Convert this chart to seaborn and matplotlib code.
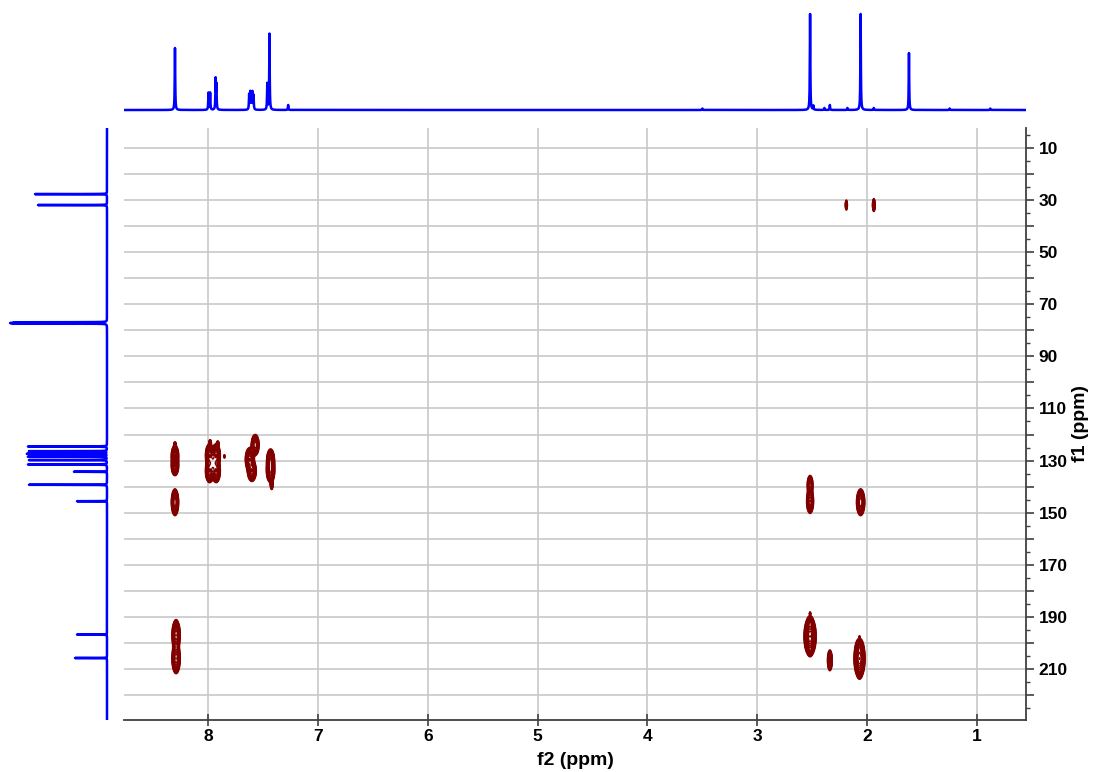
import matplotlib
matplotlib.use('Agg')
import matplotlib.pyplot as plt
import matplotlib.ticker as mticker
import numpy as np
import pandas as pd
import seaborn as sns

# 1H projection peaks (ppm, height)
h_shift = [8.30, 7.995, 7.98, 7.93, 7.923, 7.625, 7.615, 7.605, 7.595, 7.585, 7.46, 7.44, 7.27,
           3.50, 2.52, 2.49, 2.39, 2.34, 2.18, 2.06, 1.94, 1.62, 1.25, 0.88]
h_height = [62, 17, 17, 30, 24, 15, 17, 16, 17, 14, 26, 76, 5,
            1.5, 96, 4, 2, 5, 2, 96, 2, 57, 1.5, 1.5]

# 13C projection peaks (ppm, height)
c_shift = [27.7, 31.9, 76.9, 77.2, 77.4, 124.6, 126.4, 127.4, 128.5, 129.8, 131.5, 134.3,
           139.3, 145.6, 196.8, 205.8]
c_height = [72, 69, 92, 94, 92, 79, 78, 80, 79, 78, 79, 33, 78, 30, 30, 32]

# HMBC cross peaks: f2 (1H), f1 (13C), width f2, width f1, intensity
cp_f2 = [8.30, 8.30, 8.30, 8.30, 8.29, 8.29, 8.29,
         7.985, 7.985, 7.925, 7.925, 7.955, 7.98, 7.91, 7.85,
         7.57, 7.62, 7.60, 7.43, 7.43, 7.42,
         2.52, 2.52, 2.06,
         2.52, 2.52, 2.52, 2.52, 2.34,
         2.07, 2.07, 2.07, 2.07,
         2.19, 1.94]
cp_f1 = [123.8, 128.0, 132.0, 146.0, 192.6, 197.0, 206.0,
         128.0, 134.0, 128.0, 134.0, 131.0, 123.0, 123.5, 128.4,
         124.0, 129.5, 134.0, 130.0, 134.0, 139.0,
         139.3, 145.6, 146.0,
         188.7, 192.0, 197.5, 203.3, 206.7,
         197.7, 201.5, 206.0, 212.0,
         31.9, 31.9]
cp_w2 = [0.006, 0.015, 0.015, 0.015, 0.006, 0.017, 0.017,
         0.017, 0.017, 0.017, 0.017, 0.015, 0.006, 0.006, 0.004,
         0.016, 0.018, 0.018, 0.016, 0.017, 0.007,
         0.013, 0.015, 0.017,
         0.004, 0.011, 0.022, 0.009, 0.011,
         0.003, 0.013, 0.02, 0.009,
         0.006, 0.007]
cp_w1 = [0.6, 1.7, 1.7, 2.3, 0.6, 2.6, 2.6,
         2.0, 2.0, 2.0, 2.0, 2.0, 0.6, 0.6, 0.5,
         1.8, 2.0, 1.8, 2.0, 2.0, 1.2,
         1.8, 2.2, 2.3,
         0.4, 1.0, 3.0, 0.8, 2.0,
         0.3, 1.2, 3.0, 0.8,
         1.2, 1.4]
cp_amp = [0.3, 1.0, 1.0, 1.0, 0.3, 1.0, 1.0,
          1.0, 1.0, 1.0, 1.0, 0.6, 0.3, 0.3, 0.2,
          1.0, 1.0, 1.0, 1.0, 1.0, 0.4,
          0.6, 0.8, 1.0,
          0.2, 0.5, 2.0, 0.4, 0.6,
          0.15, 0.6, 2.0, 0.4,
          0.3, 0.4]

f2_lim = (8.764, 0.555)
f1_lim = (229.6, 2.32)

sns.set_theme(style='white')
plt.rcParams['font.family'] = ['Liberation Sans', 'DejaVu Sans']
plt.rcParams['font.weight'] = 'bold'

fig = plt.figure(figsize=(10.95, 7.72), dpi=100)
W, H = 1095, 772
ax = fig.add_axes([124 / W, 1 - 720 / H, (1026 - 124) / W, (720 - 128) / H])
ax_top = fig.add_axes([124 / W, 1 - 120 / H, (1026 - 124) / W, 120 / H])
ax_left = fig.add_axes([0, 1 - 720 / H, 115 / W, (720 - 128) / H])

blue = '#0000ff'

# top 1H projection
x_h = np.arange(0.555, 8.764, 0.001)
y_h = np.zeros_like(x_h)
for s, h in zip(h_shift, h_height):
    y_h += h / (1 + ((x_h - s) / 0.0025) ** 2)
df_h = pd.DataFrame({'ppm': x_h, 'int': y_h})
sns.lineplot(data=df_h, x='ppm', y='int', ax=ax_top, color=blue, lw=1.8,
             estimator=None, sort=False)
ax_top.set_xlim(f2_lim)
ax_top.set_ylim(-10, 110)
ax_top.axis('off')

# left 13C projection
y_c = np.arange(2.32, 229.6, 0.005)
x_c = np.zeros_like(y_c)
for s, h in zip(c_shift, c_height):
    x_c += h / (1 + ((y_c - s) / 0.03) ** 2)
df_c = pd.DataFrame({'ppm': y_c, 'int': x_c})
sns.lineplot(data=df_c, x='int', y='ppm', ax=ax_left, color=blue, lw=1.8,
             estimator=None, sort=False, orient='y')
ax_left.set_xlim(107, -8)
ax_left.set_ylim(f1_lim)
ax_left.axis('off')

# 2D contour map
gx = np.arange(0.555, 8.764, 0.004)
gy = np.arange(2.32, 229.6, 0.25)
GX, GY = np.meshgrid(gx, gy)
Z = np.zeros_like(GX)
for a, b, wa, wb, amp in zip(cp_f2, cp_f1, cp_w2, cp_w1, cp_amp):
    Z += amp * np.exp(-0.5 * (((GX - a) / wa) ** 2 + ((GY - b) / wb) ** 2))
ax.set_axisbelow(True)
ax.contour(GX, GY, Z, levels=np.geomspace(0.08, 2.5, 16), colors='#800000', linewidths=1.0)

ax.set_xlim(f2_lim)
ax.set_ylim(f1_lim)
ax.set_xticks(range(1, 9))
ax.xaxis.set_minor_locator(mticker.NullLocator())
ax.set_yticks(range(10, 230, 10))
ax.yaxis.set_minor_locator(mticker.MultipleLocator(5))
ax.yaxis.set_major_formatter(mticker.FuncFormatter(
    lambda v, p: f'{int(v)}' if int(v) % 20 == 10 else ''))
ax.yaxis.tick_right()
ax.yaxis.set_label_position('right')
ax.grid(True, which='major', color='#c8c8c8', lw=1.2)
for side in ['top', 'left']:
    ax.spines[side].set_visible(False)
for side in ['bottom', 'right']:
    ax.spines[side].set_color('#404040')
    ax.spines[side].set_linewidth(1.3)
ax.tick_params(axis='x', which='major', direction='inout', length=9, width=1.2,
               color='#404040', labelsize=12.5, labelcolor='black', pad=2, bottom=True)
ax.tick_params(axis='y', which='major', direction='out', length=6, width=1.2,
               color='#404040', labelsize=12.5, labelcolor='black', pad=3,
               right=True, left=False)
ax.tick_params(axis='y', which='minor', direction='out', length=3, width=1.0,
               color='#404040', right=True, left=False)
ax.set_xlabel('f2 (ppm)', fontsize=14, fontweight='bold', color='black', labelpad=6)
ax.set_ylabel('f1 (ppm)', fontsize=14, fontweight='bold', color='black', labelpad=3)

fig.savefig('out.png', dpi=100)
